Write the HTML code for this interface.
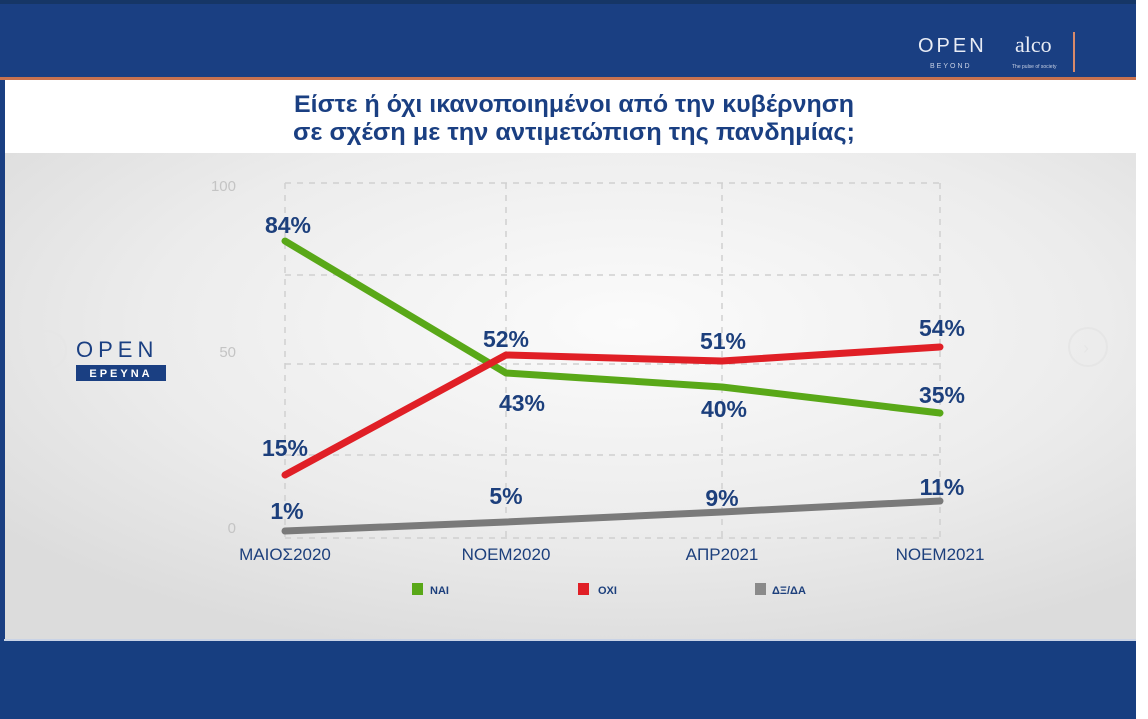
<!DOCTYPE html>
<html><head><meta charset="utf-8"><style>
body{margin:0;width:1148px;height:719px;overflow:hidden;background:#fff;font-family:"Liberation Sans","DejaVu Sans",sans-serif}
</style></head><body>
<svg width="1148" height="719" viewBox="0 0 1148 719" xmlns="http://www.w3.org/2000/svg" style="display:block">
<defs>
<radialGradient id="bg" cx="0.55" cy="0.35" r="0.7">
<stop offset="0" stop-color="#fbfbfb"/><stop offset="0.6" stop-color="#ececec"/><stop offset="1" stop-color="#dcdcdc"/>
</radialGradient>
</defs>
<rect x="0" y="0" width="1148" height="719" fill="#fff"/>
<rect x="0" y="0" width="1136" height="78" fill="#1a3f82"/>
<rect x="0" y="0" width="1136" height="4" fill="#163666"/>
<rect x="0" y="77" width="1136" height="3" fill="#c8724f"/>
<rect x="4" y="80" width="1132" height="73" fill="#fff"/>
<rect x="4" y="153" width="1132" height="488" fill="url(#bg)"/>
<rect x="0" y="80" width="5" height="561" fill="#1a3f82"/>
<rect x="0" y="640" width="1136" height="79" fill="#173e80"/>
<line x1="4" y1="640" x2="1136" y2="640" stroke="#c9d3e6" stroke-width="2"/>
<text x="918" y="52" font-size="20" fill="#e8ecf5" letter-spacing="3">OPEN</text>
<text x="930" y="68" font-size="7" fill="#c9d2e6" letter-spacing="2">BEYOND</text>
<text x="1015" y="52" font-size="22" fill="#e8ecf5" font-family="Liberation Serif,serif">alco</text>
<text x="1012" y="68" font-size="5" fill="#c9d2e6">The pulse of society</text>
<rect x="1073" y="32" width="2" height="40" fill="#d88a6a"/>
<text x="574" y="112" font-size="24" font-weight="bold" fill="#1a3f82" text-anchor="middle" textLength="560" lengthAdjust="spacingAndGlyphs">Είστε ή όχι ικανοποιημένοι από την κυβέρνηση</text>
<text x="574" y="140" font-size="24" font-weight="bold" fill="#1a3f82" text-anchor="middle" textLength="562" lengthAdjust="spacingAndGlyphs">σε σχέση με την αντιμετώπιση της πανδημίας;</text>
<g stroke="#d0d0d0" stroke-width="1.5" stroke-dasharray="6,6" fill="none">
<line x1="285" y1="183" x2="940" y2="183"/><line x1="285" y1="275" x2="940" y2="275"/>
<line x1="285" y1="364" x2="940" y2="364"/><line x1="285" y1="455" x2="940" y2="455"/>
<line x1="285" y1="538" x2="940" y2="538"/>
<line x1="285" y1="183" x2="285" y2="538"/><line x1="506" y1="183" x2="506" y2="538"/>
<line x1="722" y1="183" x2="722" y2="538"/><line x1="940" y1="183" x2="940" y2="538"/>
</g>
<g font-size="15" fill="#c4c4c4" text-anchor="end">
<text x="236" y="191">100</text><text x="236" y="357">50</text><text x="236" y="533">0</text>
</g>
<circle cx="47" cy="350" r="19" fill="none" stroke="#e6e6e6" stroke-width="2"/>
<text x="43" y="357" font-size="18" fill="#e6e6e6">‹</text>
<text x="76" y="357" font-size="22" fill="#1a3f82" letter-spacing="5">OPEN</text>
<rect x="76" y="365" width="90" height="16" fill="#1a3f82"/>
<text x="121" y="377" font-size="11" font-weight="bold" fill="#fff" text-anchor="middle" letter-spacing="3">ΕΡΕΥΝΑ</text>
<circle cx="1088" cy="347" r="19" fill="none" stroke="#e6e6e6" stroke-width="2"/>
<text x="1083" y="354" font-size="18" fill="#e6e6e6">›</text>
<g fill="none" stroke-width="7" stroke-linecap="round" stroke-linejoin="round">
<polyline points="285,531 506,522 722,512 940,501" stroke="#7a7a7a"/>
<polyline points="285,241 506,373 722,387 940,413" stroke="#59a818"/>
<polyline points="285,475 506,355 722,361 940,347" stroke="#e01f26"/>
</g>
<g font-size="23" font-weight="bold" fill="#1c3f7c" text-anchor="middle">
<text x="288" y="233">84%</text><text x="285" y="456">15%</text><text x="287" y="519">1%</text>
<text x="506" y="347">52%</text><text x="522" y="411">43%</text><text x="506" y="504">5%</text>
<text x="723" y="349">51%</text><text x="724" y="417">40%</text><text x="722" y="506">9%</text>
<text x="942" y="336">54%</text><text x="942" y="403">35%</text><text x="942" y="495">11%</text>
</g>
<g font-size="17" fill="#1c3f7c" text-anchor="middle">
<text x="285" y="560">ΜΑΙΟΣ2020</text><text x="506" y="560">ΝΟΕΜ2020</text>
<text x="722" y="560">ΑΠΡ2021</text><text x="940" y="560">ΝΟΕΜ2021</text>
</g>
<rect x="412" y="583" width="11" height="12" fill="#59a818"/>
<rect x="578" y="583" width="11" height="12" fill="#e01f26"/>
<rect x="755" y="583" width="11" height="12" fill="#8a8a8a"/>
<g font-size="11" font-weight="bold" fill="#1c3f7c">
<text x="430" y="594">ΝΑΙ</text><text x="598" y="594">ΟΧΙ</text><text x="772" y="594">ΔΞ/ΔΑ</text>
</g>
</svg>
</body></html>
